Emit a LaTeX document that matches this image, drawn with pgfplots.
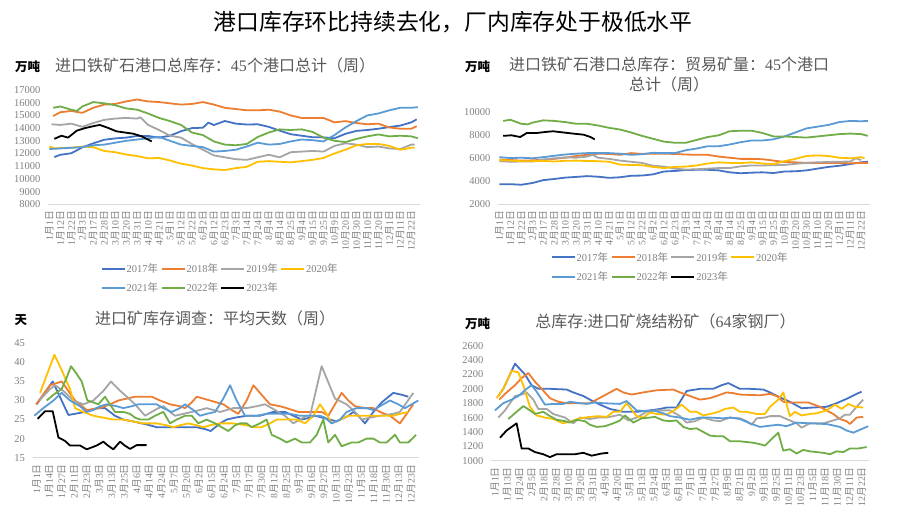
\documentclass[border=0pt]{standalone}
\usepackage{fontspec}
\setmainfont{Liberation Serif}
\newfontfamily\cjk{Noto Sans CJK SC}
\usepackage{pgfplots}
\pgfplotsset{compat=1.18}

\definecolor{c17}{HTML}{4472C4}
\definecolor{c18}{HTML}{ED7D31}
\definecolor{c19}{HTML}{A5A5A5}
\definecolor{c20}{HTML}{FFC000}
\definecolor{c21}{HTML}{5B9BD5}
\definecolor{c22}{HTML}{70AD47}
\definecolor{c23}{HTML}{000000}
\definecolor{tickgray}{HTML}{808080}
\definecolor{titlegray}{HTML}{595959}
\definecolor{axgray}{HTML}{D9D9D9}

\newcommand\md[2]{#1{\cjk 月}#2{\cjk 日}}
\newcommand\yr[1]{#1{\cjk 年}}

\pgfplotsset{
  panel/.style={
    scale only axis, anchor=south west,
    axis x line*=bottom, axis y line*=left,
    y axis line style={draw=none},
    x axis line style={draw=axgray, line width=0.9pt, -},
    major tick length=0pt,
    tick label style={text=tickgray},
    yticklabel style={font=\fontsize{10.5}{11}\selectfont, xshift=-4.5pt},
    xticklabel style={font=\fontsize{9.8}{10}\selectfont, yshift=-3pt, rotate=90, anchor=east},
    /pgf/number format/assume math mode=true,
    /pgf/number format/1000 sep={},
    scaled y ticks=false,
    every axis plot/.append style={line width=1.8pt, line join=round, mark=none},
  },
  yearlegend/.style={
    legend style={at={(0.141,-0.507)}, anchor=north west, draw=none, fill=none,
      font=\fontsize{10.5}{11}\selectfont, text=tickgray, legend columns=4,
      inner sep=0pt, nodes={inner sep=1pt}, row sep=7pt,
      /tikz/every even column/.append style={column sep=1.5pt}},
    legend cell align=left,
    legend image code/.code={\draw[##1, line width=1.8pt] (0pt,0pt) -- (23pt,0pt);},
  },
  toplabels/.style={
    xmin=-0.1, xmax=33.8, xtick={0,...,33},
    xticklabels={\md{1}{1},\md{1}{12},\md{1}{22},\md{2}{3},\md{2}{17},\md{2}{28},\md{3}{10},\md{3}{20},\md{3}{31},\md{4}{10},\md{4}{21},\md{5}{1},\md{5}{12},\md{5}{22},\md{6}{2},\md{6}{12},\md{6}{23},\md{7}{3},\md{7}{14},\md{7}{24},\md{8}{4},\md{8}{14},\md{8}{25},\md{9}{4},\md{9}{15},\md{9}{25},\md{10}{9},\md{10}{20},\md{10}{30},\md{11}{10},\md{11}{20},\md{12}{1},\md{12}{11},\md{12}{22}},
  },
}

\begin{document}
\begin{tikzpicture}[x=1pt,y=1pt]
\useasboundingbox (0,0) rectangle (905,517);

\node[font=\fontsize{22.8}{26}\selectfont\cjk] at (453,495) {港口库存环比持续去化，厂内库存处于极低水平};

% titles
\node[font=\fontsize{12.5}{14}\selectfont\cjk\bfseries] at (27.5,450.3) {万吨};
\node[font=\fontsize{16}{20}\selectfont\cjk, text=titlegray] at (215,452) {进口铁矿石港口总库存：{\rmfamily 45}个港口总计（周）};
\node[font=\fontsize{12.5}{14}\selectfont\cjk\bfseries] at (477.5,450.3) {万吨};
\node[font=\fontsize{16}{20}\selectfont\cjk, text=titlegray, align=center] at (669,442) {进口铁矿石港口总库存：贸易矿量：{\rmfamily 45}个港口\\总计（周）};
\node[font=\fontsize{12.5}{14}\selectfont\cjk\bfseries] at (20.8,197) {天};
\node[font=\fontsize{16}{20}\selectfont\cjk, text=titlegray] at (215,199) {进口矿库存调查：平均天数（周）};
\node[font=\fontsize{12.5}{14}\selectfont\cjk\bfseries] at (477.5,193.7) {万吨};
\node[font=\fontsize{16}{20}\selectfont\cjk, text=titlegray] at (665.5,195.3) {总库存{\rmfamily :}进口矿烧结粉矿（{\rmfamily 64}家钢厂）};

% top left: port inventory, 45 ports
\begin{axis}[panel, yearlegend, toplabels, at={(48.3pt,312.7pt)}, width=371.7pt, height=114.3pt,
  ymin=8000, ymax=17000, ytick={8000,9000,...,17000}]
\addplot[c17] coordinates {(0.45,11720) (1,11900) (2,12020) (3,12480) (4,12800) (5,13080) (6,13190) (7,13250) (8,13380) (9,13380) (10,13250) (11,13400) (12,13750) (13,14000) (14,14030) (14.5,14430) (15,14240) (16,14560) (17,14350) (18,14280) (19,14300) (20,14100) (21,13800) (22,13520) (23,13400) (24,13280) (25,13270) (26,13200) (27,13550) (28,13780) (29,13850) (30,13950) (31,14080) (32,14200) (33,14450) (33.5,14690)};
\addplot[c18] coordinates {(0.35,14950) (1,15250) (2,15350) (3,15200) (4,15600) (5,15850) (6,15900) (7,16100) (8,16250) (9,16100) (10,16050) (11,15950) (12,15850) (13,15900) (14,16050) (15,15850) (16,15600) (17,15500) (18,15400) (19,15400) (20,15450) (21,15300) (22,15000) (23,14800) (24,14800) (25,14800) (26,14450) (27,14550) (28,14400) (29,14300) (30,14350) (31,14050) (32,13950) (33,13950) (33.5,14150)};
\addplot[c19] coordinates {(0.2,14300) (1,14250) (2,14350) (3,14100) (4,14400) (5,14650) (6,14750) (7,14800) (8,14750) (8.3,14850) (9,14250) (10,13850) (11,13400) (12,13250) (13,12750) (14,12300) (15,11850) (16,11700) (17,11550) (18,11500) (19,11700) (20,11900) (21,11700) (22,12100) (23,12150) (24,12200) (25,12150) (26,12600) (27,12800) (28,12700) (29,12500) (30,12550) (31,12400) (32,12350) (33,12700) (33.3,12700)};
\addplot[c20] coordinates {(0,12550) (0.5,12400) (1,12430) (2,12450) (3,12550) (4,12500) (5,12200) (6,12100) (7,11920) (8,11800) (9,11620) (10,11650) (11,11450) (12,11200) (13,11050) (14,10850) (15,10750) (16,10700) (17,10850) (18,10950) (19,11350) (20,11400) (21,11350) (22,11300) (23,11400) (24,11500) (25,11650) (26,12000) (27,12300) (28,12650) (29,12750) (30,12750) (31,12600) (32,12300) (33,12450) (33.3,12450)};
\addplot[c21] coordinates {(0,12350) (1,12400) (2,12450) (3,12500) (4,12650) (5,12700) (6,12850) (7,13000) (8,13100) (9,13200) (10,13300) (11,13000) (12,12700) (13,12600) (14,12500) (15,12150) (16,12200) (17,12300) (18,12550) (19,12850) (20,12700) (21,12750) (22,12950) (23,13100) (24,13050) (25,12950) (26,13450) (27,14050) (28,14550) (29,15000) (30,15150) (31,15400) (32,15600) (33,15600) (33.6,15650)};
\addplot[c22] coordinates {(0.35,15600) (1,15700) (2,15450) (2.5,15350) (3,15700) (4,16050) (5,15950) (6,15800) (7,15550) (8,15450) (9,15150) (10,14800) (11,14550) (12,14250) (13,13650) (14,13450) (15,12950) (16,12700) (17,12650) (18,12750) (19,13300) (20,13650) (21,13900) (22,13850) (23,13900) (24,13700) (25,13250) (26,13000) (27,12900) (28,13150) (29,13350) (30,13500) (31,13350) (32,13400) (33,13350) (33.6,13200)};
\addplot[c23] coordinates {(0.45,13150) (1.1,13400) (1.7,13250) (2.5,13800) (3.25,14000) (4,14150) (4.6,14250) (5.4,14000) (6.1,13750) (6.9,13650) (7.7,13550) (8.4,13350) (9.33,12950)};
\legend{\yr{2017},\yr{2018},\yr{2019},\yr{2020},\yr{2021},\yr{2022},\yr{2023}}
\end{axis}

% top right: traded ore, 45 ports
\begin{axis}[panel, yearlegend, toplabels, at={(498.3pt,312.7pt)}, width=371.7pt, height=92pt,
  ymin=2000, ymax=10000, ytick={2000,4000,...,10000}]
\addplot[c17] coordinates {(0,3750) (1,3750) (2,3700) (3,3850) (4,4100) (5,4200) (6,4320) (7,4380) (8,4450) (9,4400) (10,4300) (11,4350) (12,4480) (13,4500) (14,4600) (15,4850) (16,4900) (17,4980) (18,5000) (19,5000) (20,4950) (21,4780) (22,4700) (23,4750) (24,4780) (25,4720) (26,4850) (27,4870) (28,4950) (29,5100) (30,5250) (31,5350) (32,5500) (33,5650) (33.6,5700)};
\addplot[c18] coordinates {(0,5900) (1,5850) (2,5800) (3,5820) (4,5880) (5,5950) (6,6050) (7,6200) (8,6300) (9,6400) (10,6380) (11,6300) (12,6450) (13,6380) (14,6400) (15,6400) (16,6380) (17,6330) (18,6300) (19,6300) (20,6150) (21,6050) (22,5950) (23,5950) (24,5920) (25,5800) (26,5680) (27,5650) (28,5600) (29,5600) (30,5600) (31,5600) (32,5570) (33,5600) (33.6,5600)};
\addplot[c19] coordinates {(0,5750) (1,5700) (2,5720) (3,5720) (4,5900) (5,6000) (6,6080) (7,6050) (8,6150) (8.5,6300) (9,6050) (10,5950) (11,5800) (12,5700) (13,5600) (14,5350) (15,5280) (16,5100) (17,5020) (18,5050) (19,5100) (20,5150) (21,5150) (22,5300) (23,5380) (24,5380) (25,5400) (26,5420) (27,5520) (28,5600) (29,5650) (30,5680) (31,5700) (32,5720) (32.5,6000) (33,5850)};
\addplot[c20] coordinates {(0,5850) (1,5800) (2,5750) (3,5750) (4,5780) (5,5720) (6,5780) (7,5800) (8,5760) (9,5750) (10,5700) (11,5450) (12,5420) (13,5400) (14,5250) (15,5150) (16,5250) (17,5280) (18,5380) (19,5550) (20,5650) (21,5600) (22,5580) (23,5650) (24,5550) (25,5500) (26,5750) (27,5950) (28,6200) (29,6250) (30,6200) (31,6050) (32,6000) (33,6100) (33.3,6000)};
\addplot[c21] coordinates {(0,6100) (1,6020) (2,6050) (3,6000) (4,6100) (5,6220) (6,6330) (7,6400) (8,6450) (9,6450) (10,6450) (11,6400) (12,6300) (13,6350) (14,6480) (15,6450) (16,6450) (17,6700) (18,6850) (19,7050) (20,7050) (21,7200) (22,7400) (23,7550) (24,7550) (25,7650) (26,7900) (27,8250) (28,8600) (29,8750) (30,8900) (31,9150) (32,9250) (33,9220) (33.6,9250)};
\addplot[c22] coordinates {(0.35,9250) (1,9350) (2,9000) (2.6,8950) (3,9100) (4,9300) (5,9250) (6,9150) (7,9000) (8,9000) (9,8850) (10,8650) (11,8500) (12,8250) (13,7950) (14,7700) (15,7450) (16,7350) (17,7350) (18,7600) (19,7850) (20,8000) (21,8350) (22,8400) (23,8400) (24,8200) (25,7900) (26,7900) (27,7850) (28,7800) (29,7900) (30,8000) (31,8100) (32,8150) (33,8100) (33.6,7950)};
\addplot[c23] coordinates {(0.35,7950) (1.1,8000) (1.9,7850) (2.5,8200) (3.4,8200) (4.3,8300) (4.9,8350) (5.8,8250) (6.7,8150) (7.7,8050) (8.3,7850) (8.7,7650)};
\legend{\yr{2017},\yr{2018},\yr{2019},\yr{2020},\yr{2021},\yr{2022},\yr{2023}}
\end{axis}

% bottom left: average days of imported ore inventory
\begin{axis}[panel, at={(32.96pt,59.3pt)}, width=386.3pt, height=114.4pt,
  xmin=-0.3, xmax=30.65, ymin=15, ymax=45, ytick={15,20,...,45}, xtick={0,...,30},
  xticklabels={\md{1}{1},\md{1}{14},\md{1}{27},\md{2}{11},\md{2}{23},\md{3}{3},\md{3}{13},\md{3}{25},\md{4}{6},\md{4}{14},\md{4}{24},\md{5}{7},\md{5}{20},\md{6}{2},\md{6}{15},\md{6}{24},\md{7}{5},\md{7}{17},\md{7}{30},\md{8}{12},\md{8}{25},\md{9}{7},\md{9}{16},\md{9}{27},\md{10}{13},\md{10}{23},\md{11}{5},\md{11}{18},\md{11}{30},\md{12}{13},\md{12}{23}}]
\addplot[c17] coordinates {(0,29) (1.28,35) (2.54,26.2) (3.87,27) (4.81,28) (5.47,28) (6.27,26) (6.94,25) (7.74,24.5) (8.41,24) (9.08,23.5) (9.61,23) (10.95,23) (11.75,23) (12.82,23) (13.48,22.5) (13.94,22) (14.69,24) (15.22,25) (15.89,25.5) (16.82,26) (17.89,26) (18.42,26.5) (18.96,27) (19.89,27) (20.56,26) (21.23,25) (21.90,25.5) (22.30,26) (23.50,25) (24.03,24.5) (24.97,26) (25.37,27) (25.77,26) (26.30,24) (26.97,27) (27.64,29.5) (28.57,32) (29.24,31.5) (29.77,31)};
\addplot[c18] coordinates {(-0.05,29) (1.07,34) (2.00,35) (3.07,30) (4.01,27.5) (5.07,28) (5.87,29) (6.54,30) (7.21,30.5) (7.88,31) (9.21,31) (9.88,30) (10.68,29) (11.48,28.5) (11.88,28) (12.42,29.5) (12.82,31) (13.89,30) (14.95,29) (15.62,27.5) (16.15,26.5) (16.82,30) (17.36,34) (18.02,31.5) (18.69,29) (19.49,28.5) (20.03,28) (20.96,27) (22.83,27) (23.36,26) (23.90,29) (24.43,32) (24.97,30) (25.50,28.5) (26.30,28) (26.97,28) (27.50,27) (28.30,26) (29.10,24) (29.64,26.5) (30.17,29)};
\addplot[c19] coordinates {(0.21,30) (1.07,33) (1.47,34) (2.14,32.5) (2.94,30) (3.74,29) (4.54,30) (5.34,32.5) (5.95,35) (6.54,33) (7.21,31) (7.88,29) (8.28,27.5) (8.68,26) (9.21,27) (9.75,28) (10.15,28.5) (10.68,27) (11.08,26) (11.75,26.5) (12.42,27) (13.08,27.5) (13.62,28) (14.15,27.5) (14.69,27) (15.75,28) (16.82,28) (17.62,28.5) (18.29,29) (18.83,28) (19.36,27) (19.89,26) (20.56,24) (21.09,25) (21.63,26) (21.90,26) (22.83,39) (23.90,30.5) (24.83,29) (25.50,27) (26.03,25) (26.70,25.5) (27.50,26) (28.57,26.5) (29.10,27) (30.17,32)};
\addplot[c20] coordinates {(0.27,32) (1.42,42) (2.00,38) (2.67,33) (3.07,28) (3.74,27) (4.54,26) (5.34,25.5) (6.14,25) (6.94,25) (7.74,24.5) (8.54,24) (9.61,24) (10.41,23.5) (10.95,23) (11.48,23.5) (12.15,24) (12.82,23.5) (13.35,23) (13.89,23.5) (14.69,24) (15.75,24) (16.82,23.5) (17.36,23) (18.02,23) (18.69,24) (19.23,25) (20.29,25) (20.83,25) (21.50,24) (22.16,26) (22.70,29) (23.23,26.5) (23.63,24) (24.30,25) (24.97,26) (26.97,26) (28.57,26) (29.10,26.5) (29.77,27)};
\addplot[c21] coordinates {(-0.19,26) (0.53,28) (1.34,30) (2.00,32) (2.67,30) (3.47,28.5) (4.01,27) (4.54,27.5) (5.07,28.5) (5.61,29) (6.41,28.5) (6.94,28) (7.61,28.5) (8.14,29) (9.61,29) (10.15,28) (10.81,27) (11.48,28) (11.88,29) (12.55,27.5) (13.08,26) (13.62,26.5) (14.29,27) (14.95,30.5) (15.49,34) (16.02,30) (16.69,26) (17.62,26) (18.42,26.5) (20.29,26.5) (21.09,26) (22.70,26) (23.10,25.5) (23.63,24) (24.30,25) (24.83,27) (25.63,28) (26.43,28) (26.97,27.5) (27.50,28.5) (28.30,30) (28.97,29) (29.51,28) (30.04,29) (30.57,30)};
\addplot[c22] coordinates {(0.80,30) (1.34,31.5) (2.00,33) (2.40,36) (2.75,39) (3.20,37) (3.60,35) (4.06,30) (4.54,29.5) (4.94,29) (5.47,31) (5.87,29) (6.27,27) (6.94,27) (7.48,26.5) (7.88,25.5) (8.28,25) (8.95,25) (9.48,26) (10.15,27) (10.68,24) (11.21,25) (11.88,26) (12.42,26) (12.95,24) (13.62,25) (14.29,24) (14.82,23) (15.35,22) (15.89,23.5) (16.29,24) (16.82,24) (17.22,23) (17.89,24) (18.42,25) (18.83,21) (19.49,20) (20.03,19) (20.69,20) (21.23,19) (21.90,19) (22.43,21) (22.96,25) (23.36,19) (23.90,21) (24.43,18) (25.23,19) (25.77,19) (26.43,20) (26.97,20) (27.50,19) (28.04,19) (28.70,21) (29.10,19) (29.77,19) (30.39,21)};
\addplot[c23] coordinates {(0.08,25.2) (0.67,27.2) (1.28,27.2) (1.74,20.3) (2.27,19.4) (2.67,18.2) (3.47,18.2) (4.01,17.2) (4.81,18.2) (5.34,19.2) (5.70,18.2) (6.14,17.2) (6.68,19.2) (7.05,18.2) (7.48,17.3) (8.01,18.3) (8.81,18.3)};
\end{axis}

% bottom right: sinter fines at 64 mills
\begin{axis}[panel, at={(491.3pt,56.3pt)}, width=377.9pt, height=115pt,
  xmin=-0.3, xmax=30.62, ymin=1000, ymax=2600, ytick={1000,1200,...,2600}, xtick={0,...,30},
  xticklabels={\md{1}{1},\md{1}{13},\md{1}{24},\md{2}{5},\md{2}{18},\md{2}{28},\md{3}{10},\md{3}{20},\md{3}{31},\md{4}{9},\md{4}{20},\md{5}{1},\md{5}{13},\md{5}{24},\md{6}{5},\md{6}{18},\md{7}{1},\md{7}{14},\md{7}{27},\md{8}{9},\md{8}{21},\md{9}{2},\md{9}{13},\md{9}{25},\md{10}{11},\md{10}{23},\md{11}{5},\md{11}{18},\md{11}{30},\md{12}{11},\md{12}{22}}]
\addplot[c17] coordinates {(0.27,1900) (0.68,2000) (1.64,2350) (2.45,2200) (3.00,2050) (3.55,2000) (4.50,2000) (5.86,1990) (6.41,1950) (7.23,1900) (7.77,1850) (8.59,1780) (9.41,1720) (9.95,1700) (10.50,1680) (11.59,1680) (12.68,1700) (13.50,1720) (14.04,1740) (14.86,1740) (15.68,1970) (16.77,2000) (17.86,2000) (18.54,2050) (19.09,2080) (20.04,2000) (20.86,2000) (21.95,1990) (22.50,1950) (23.32,1880) (24.13,1820) (25.09,1730) (26.04,1740) (27.13,1750) (27.95,1800) (28.77,1860) (29.59,1930) (30.00,1960)};
\addplot[c18] coordinates {(0.35,1850) (0.95,1950) (1.64,2050) (2.18,2150) (2.73,2220) (3.27,2100) (3.82,2000) (4.50,1870) (5.18,1820) (5.86,1800) (7.77,1800) (8.32,1850) (8.86,1900) (9.41,1950) (9.95,2000) (10.50,1950) (11.18,1920) (12.14,1950) (13.23,1980) (14.59,1990) (15.14,1950) (15.95,1900) (16.77,1850) (17.59,1870) (18.13,1900) (18.95,1950) (19.50,1940) (20.04,1920) (21.68,1910) (22.50,1930) (23.04,1900) (23.59,1820) (24.13,1810) (25.63,1810) (26.59,1750) (27.13,1700) (27.68,1650) (28.22,1580) (28.77,1550) (29.04,1510) (29.59,1600) (30.13,1610)};
\addplot[c19] coordinates {(0.27,1600) (0.82,1700) (1.64,1900) (2.18,1920) (2.59,1950) (3.14,1850) (3.55,1720) (4.23,1720) (4.77,1650) (5.73,1600) (6.41,1520) (6.95,1600) (7.77,1580) (8.45,1600) (9.14,1600) (9.68,1620) (10.23,1640) (10.91,1560) (11.59,1600) (12.41,1680) (13.23,1700) (14.32,1700) (15.14,1620) (15.68,1530) (16.36,1550) (17.04,1600) (17.86,1560) (18.41,1550) (19.23,1600) (20.04,1590) (20.59,1550) (21.00,1500) (21.41,1590) (22.09,1600) (22.50,1620) (23.32,1620) (24.13,1560) (24.68,1520) (25.09,1460) (25.77,1520) (26.86,1520) (27.68,1560) (28.22,1590) (28.64,1640) (29.04,1640) (29.59,1750) (30.13,1850)};
\addplot[c20] coordinates {(0.14,1870) (0.68,2000) (1.36,2250) (1.91,2230) (2.32,2050) (2.86,1750) (3.41,1630) (4.09,1600) (4.77,1580) (5.59,1520) (6.27,1550) (6.95,1590) (7.77,1610) (8.45,1620) (9.14,1610) (9.68,1680) (10.23,1680) (10.77,1800) (11.59,1620) (12.14,1600) (12.68,1670) (13.23,1650) (14.04,1640) (14.59,1690) (15.27,1780) (15.95,1680) (16.50,1680) (17.04,1630) (17.86,1660) (18.27,1680) (18.82,1720) (19.50,1740) (20.04,1680) (20.59,1680) (21.41,1650) (22.09,1650) (22.50,1750) (23.18,1850) (23.59,1950) (24.13,1620) (24.54,1680) (25.09,1630) (25.77,1650) (26.32,1660) (27.13,1700) (27.82,1780) (28.36,1720) (28.91,1790) (29.45,1750) (30.13,1740)};
\addplot[c21] coordinates {(0,1700) (0.68,1800) (1.36,1850) (1.91,1900) (2.59,2000) (3.00,2050) (3.41,1960) (4.09,1780) (4.77,1790) (5.59,1790) (6.14,1820) (6.95,1800) (7.50,1790) (8.18,1810) (8.86,1800) (10.23,1790) (10.77,1830) (11.59,1700) (12.41,1690) (12.95,1700) (13.77,1660) (14.32,1620) (15.14,1600) (15.95,1570) (16.77,1600) (17.59,1600) (18.68,1590) (19.23,1600) (20.04,1580) (20.86,1520) (21.68,1470) (22.63,1490) (23.18,1500) (23.86,1480) (24.68,1530) (25.77,1520) (27.13,1510) (28.22,1470) (28.77,1420) (29.32,1390) (29.86,1430) (30.54,1480)};
\addplot[c22] coordinates {(1.09,1580) (1.77,1680) (2.32,1760) (2.86,1700) (3.27,1650) (3.95,1680) (4.50,1620) (5.04,1570) (5.73,1550) (6.14,1530) (6.68,1570) (7.36,1550) (7.77,1500) (8.32,1470) (9.00,1480) (9.68,1520) (10.23,1560) (10.64,1630) (11.32,1530) (12.00,1590) (12.68,1600) (13.09,1610) (13.77,1560) (14.32,1550) (14.86,1560) (15.41,1470) (15.95,1440) (16.50,1450) (17.04,1400) (17.59,1350) (18.13,1340) (18.68,1340) (19.23,1270) (20.04,1270) (20.59,1260) (21.13,1250) (21.68,1230) (22.09,1210) (22.50,1280) (23.18,1390) (23.59,1140) (24.13,1160) (24.68,1100) (25.22,1150) (25.77,1130) (26.32,1120) (26.86,1110) (27.41,1090) (27.95,1130) (28.50,1120) (29.04,1170) (29.72,1170) (30.41,1190)};
\addplot[c23] coordinates {(0.41,1320) (0.95,1420) (1.36,1470) (1.77,1520) (2.18,1170) (2.73,1170) (3.27,1120) (3.95,1090) (4.50,1050) (5.04,1090) (5.73,1090) (6.54,1090) (7.23,1110) (7.91,1070) (8.73,1100) (9.27,1110)};
\end{axis}
\end{tikzpicture}
\end{document}
